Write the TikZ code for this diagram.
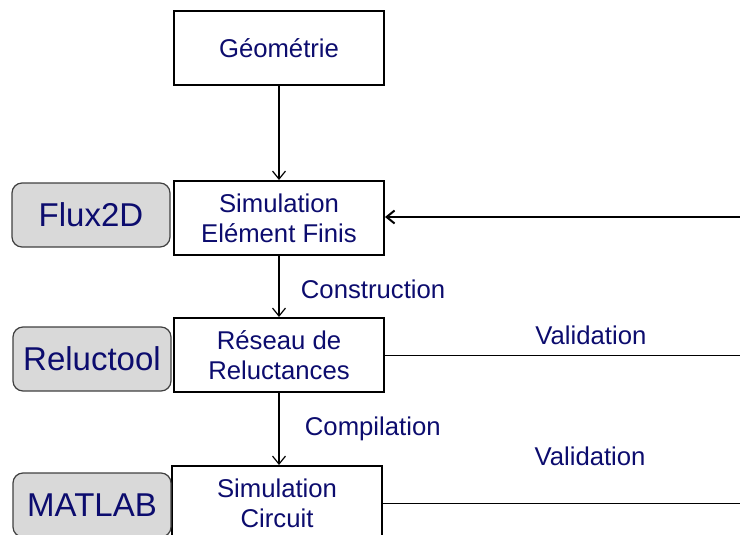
\documentclass[tikz,border=0pt]{standalone}
\usepackage{fontspec}
\setmainfont{Liberation Sans}
\usepackage{tikz}
\usetikzlibrary{arrows.meta,positioning,calc}
\usepackage{xcolor}
\definecolor{txtblue}{RGB}{12,12,110}
\definecolor{toolgray}{RGB}{217,217,217}

\begin{document}
\begin{tikzpicture}[
    x=1pt, y=-1pt,
    step box/.style={draw, line width=2pt, fill=white, minimum width=210pt, minimum height=74pt, align=center, text=txtblue, font=\fontsize{25.7}{30}\selectfont},
    tool/.style={draw=black!75, line width=1.2pt, rounded corners=10pt, fill=toolgray, minimum width=158pt, minimum height=64pt, text=txtblue, font=\fontsize{33}{38}\selectfont},
    lbl/.style={text=txtblue, font=\fontsize{25.7}{30}\selectfont},
    >={Straight Barb[length=8pt,width=13pt]}
  ]
  \useasboundingbox (0,0) rectangle (740,535);

  % Steps
  \node[step box] (geo) at (279,48.5) {Géométrie};
  \node[step box] (sef) at (279,218) {Simulation\\Elément Finis};
  \node[step box] (res) at (279,355) {Réseau de\\Reluctances};
  \node[step box] (sc) at (277,503) {Simulation\\Circuit};

  % Tools
  \node[tool] (flux) at (91,215) {Flux2D};
  \node[tool] (relu) at (92,359) {Reluctool};
  \node[tool] (mat) at (92,505) {MATLAB};

  % Right edge
  \coordinate (r1) at (740,217);
  \coordinate (r2) at (740,355);
  \coordinate (r3) at (740,503);

  % Edges
  \draw[->, line width=1.2pt] (geo) -- (sef);
  \draw[->, line width=1.2pt] (sef) -- node[lbl, right=18pt, yshift=-3pt] {Construction} (res);
  \draw[->, line width=1.2pt] (res.south) -- node[lbl, right=22pt] {Compilation} (res.south |- sc.north);
  \draw[->, line width=2pt] (r1) -- (sef.east |- r1);
  \draw[line width=1pt] (res.east |- r2) -- node[lbl, pos=0.58, above=6pt] {Validation} (r2);
  \draw[line width=1pt] (sc.east |- r3) -- node[lbl, pos=0.58, above=33pt] {Validation} (r3);
\end{tikzpicture}
\end{document}
